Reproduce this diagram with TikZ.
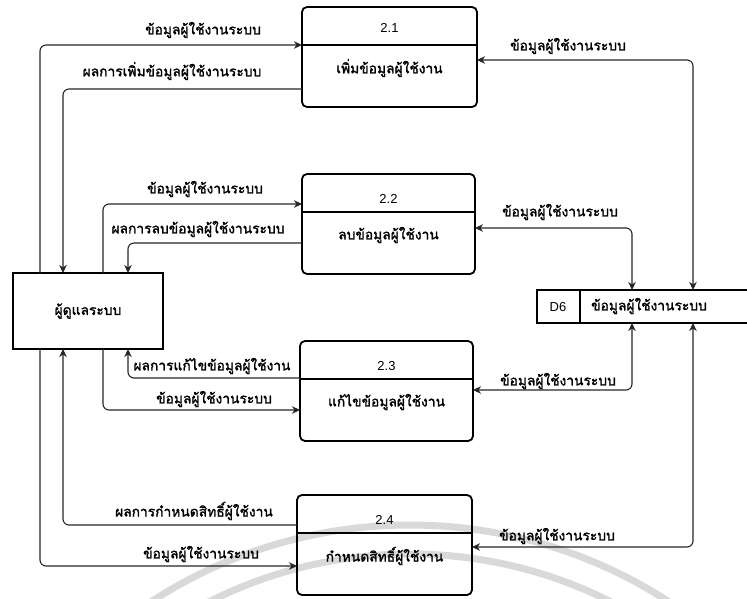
\documentclass[tikz,border=0pt]{standalone}
\usepackage{fontspec}
\setmainfont{Liberation Sans}
\newfontfamily\thai[Script=Thai, AutoFakeBold=1.6]{Loma}
\usetikzlibrary{arrows.meta}

\tikzset{
  flow/.style={draw=black!85, line width=1.1pt, rounded corners=6pt},
  tipend/.style={-{Stealth[length=8pt,width=7.5pt,inset=2.5pt]}},
  tipboth/.style={{Stealth[length=8pt,width=7.5pt,inset=2.5pt]}-{Stealth[length=8pt,width=7.5pt,inset=2.5pt]}},
  procbox/.style={draw, line width=1.8pt, rounded corners=5pt, outer sep=0pt, inner sep=0pt, minimum height=100pt},
  entbox/.style={draw, line width=1.8pt, outer sep=0pt, inner sep=0pt},
  lbl/.style={font=\thai\bfseries\fontsize{13.8}{16}\selectfont, inner sep=0pt},
  numlbl/.style={font=\fontsize{13}{15}\selectfont, inner sep=0pt}
}

\begin{document}
\begin{tikzpicture}[x=1pt,y=-1pt]
\useasboundingbox (0,0) rectangle (747,599);

% faint background rings
\begin{scope}
  \clip (0,0) rectangle (747,599);
  \draw[black!15, line width=7pt] (410,1000) ++(-126:475) arc[start angle=-126, end angle=-54, radius=475];
  \draw[black!15, line width=7pt] (410,1000) ++(-128:446) arc[start angle=-128, end angle=-52, radius=446];
\end{scope}

% processes
\node[procbox, minimum width=175pt] (p21) at (389.5,57) {};
\node[procbox, minimum width=173pt] (p22) at (388.5,224) {};
\node[procbox, minimum width=173pt] (p23) at (386.5,391) {};
\node[procbox, minimum width=175pt] (p24) at (384.5,545) {};

\coordinate (s21) at (0,45);
\coordinate (s22) at (0,212);
\coordinate (s23) at (0,379);
\coordinate (s24) at (0,533);
\draw[line width=1.6pt] (p21.west |- s21) -- (p21.east |- s21);
\draw[line width=1.6pt] (p22.west |- s22) -- (p22.east |- s22);
\draw[line width=1.6pt] (p23.west |- s23) -- (p23.east |- s23);
\draw[line width=1.6pt] (p24.west |- s24) -- (p24.east |- s24);

\node[numlbl] (n21) at (389.5,28) {2.1};
\node[numlbl] (n22) at (388.5,199) {2.2};
\node[numlbl] (n23) at (386.5,366) {2.3};
\node[numlbl] (n24) at (384.5,520) {2.4};

\node[lbl] (t21) at (389.5,68) {เพิ่มข้อมูลผู้ใช้งาน};
\node[lbl] (t22) at (388.5,235) {ลบข้อมูลผู้ใช้งาน};
\node[lbl] (t23) at (386.5,402) {แก้ไขข้อมูลผู้ใช้งาน};
\node[lbl] (t24) at (384.5,556) {กำหนดสิทธิ์ผู้ใช้งาน};

% external entity
\node[entbox, minimum width=150pt, minimum height=76pt, lbl] (ent) at (88,311) {ผู้ดูแลระบบ};

% data store
\node[inner sep=0pt, outer sep=0pt, minimum width=210pt, minimum height=33pt] (d6) at (642,306.5) {};
\draw[line width=1.8pt] (d6.north east) -- (d6.north west) -- (d6.south west) -- (d6.south east);
\coordinate (dsep) at (580,0);
\draw[line width=1.6pt] (d6.north -| dsep) -- (d6.south -| dsep);
\node[numlbl] (d6id) at (558,307) {D6};
\node[lbl] (d6name) at (649,306) {ข้อมูลผู้ใช้งานระบบ};

% lanes between the administrator and the processes
\coordinate (la) at (40,45);
\coordinate (lb) at (63,89);
\coordinate (lc) at (103,204);
\coordinate (ld) at (128,243);
\coordinate (le) at (103,410);
\coordinate (lf) at (128,378);
\coordinate (lg) at (40,566);
\coordinate (lh) at (63,525);

\draw[flow, tipend] (ent.north -| la) |- (p21.west |- la);
\draw[flow, tipend] (p21.west |- lb) -| (ent.north -| lb);
\draw[flow, tipend] (ent.north -| lc) |- (p22.west |- lc);
\draw[flow, tipend] (p22.west |- ld) -| (ent.north -| ld);
\draw[flow, tipend] (ent.south -| le) |- (p23.west |- le);
\draw[flow, tipend] (p23.west |- lf) -| (ent.south -| lf);
\draw[flow, tipend] (ent.south -| lg) |- (p24.west |- lg);
\draw[flow, tipend] (p24.west |- lh) -| (ent.south -| lh);

% lanes between the processes and the data store
\coordinate (ra) at (693,60);
\coordinate (rb) at (632,228);
\coordinate (rc) at (632,390);
\coordinate (rd) at (693,547);

\draw[flow, tipboth] (p21.east |- ra) -| (d6.north -| ra);
\draw[flow, tipboth] (p22.east |- rb) -| (d6.north -| rb);
\draw[flow, tipboth] (p23.east |- rc) -| (d6.south -| rc);
\draw[flow, tipboth] (p24.east |- rd) -| (d6.south -| rd);

% flow labels
\node[lbl] (fa) at (203,30) {ข้อมูลผู้ใช้งานระบบ};
\node[lbl] (fb) at (172,71) {ผลการเพิ่มข้อมูลผู้ใช้งานระบบ};
\node[lbl] (fc) at (205,189) {ข้อมูลผู้ใช้งานระบบ};
\node[lbl] (fd) at (198,229) {ผลการลบข้อมูลผู้ใช้งานระบบ};
\node[lbl] (fe) at (214,399) {ข้อมูลผู้ใช้งานระบบ};
\node[lbl] (ff) at (212,366) {ผลการแก้ไขข้อมูลผู้ใช้งาน};
\node[lbl] (fg) at (201,554) {ข้อมูลผู้ใช้งานระบบ};
\node[lbl] (fh) at (194,511) {ผลการกำหนดสิทธิ์ผู้ใช้งาน};

\node[lbl] (ga) at (568,46) {ข้อมูลผู้ใช้งานระบบ};
\node[lbl] (gb) at (560,212) {ข้อมูลผู้ใช้งานระบบ};
\node[lbl] (gc) at (558,381) {ข้อมูลผู้ใช้งานระบบ};
\node[lbl] (gd) at (557,536) {ข้อมูลผู้ใช้งานระบบ};
\end{tikzpicture}
\end{document}
